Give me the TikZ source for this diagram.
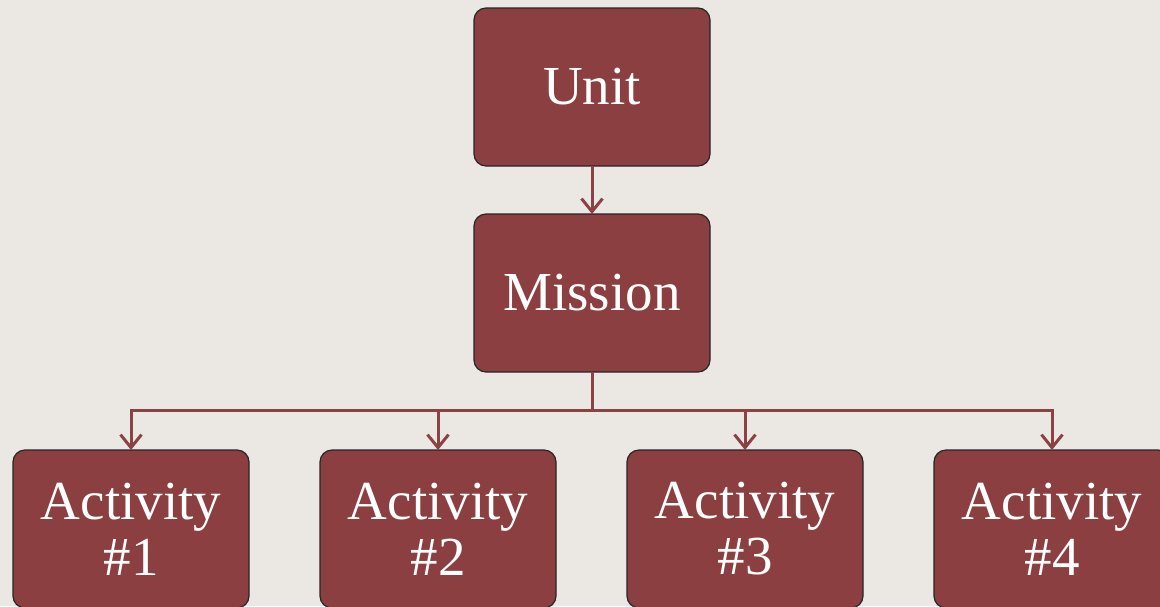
\documentclass[tikz,border=0pt]{standalone}
\usepackage{fontspec}
\setmainfont{Liberation Serif}
\usetikzlibrary{positioning,arrows.meta}

\definecolor{boxred}{HTML}{8B3F40}
\definecolor{linkred}{HTML}{8B4244}
\definecolor{paper}{HTML}{EBE8E4}

\tikzset{
	stage/.style={rectangle,draw=black!85,line width=1.2pt,fill=boxred,rounded corners=12pt,
		minimum width=236pt,minimum height=158pt,inner sep=0pt,outer sep=0pt,text=white,align=center,
		font=\fontsize{55}{56}\selectfont},
	link/.style={draw=linkred,line width=3pt,-{Straight Barb[length=13pt,width=21pt]}},
	trunk/.style={draw=linkred,line width=3pt}
}

\begin{document}
\begin{tikzpicture}[x=1pt,y=1pt,node distance=48pt]
	\fill[paper] (0,0) rectangle (1160,-606);
	\useasboundingbox (0,0) rectangle (1160,-606);

	\node (unit) [stage] at (592,-87) {Unit};
	\node (mission) [stage,below=of unit] {Mission};

	\node (act1) [stage] at (131,-529) {Activity\\\#1};
	\node (act2) [stage,right=71pt of act1] {Activity\\\#2};
	\node (act3) [stage,right=71pt of act2] {Activity\\\#3};
	\node (act4) [stage,right=71pt of act3] {Activity\\\#4};

	\coordinate [below=38pt of mission.south] (bus);

	\draw[link] (unit) -- (mission);
	\draw[trunk] (mission) -- (bus);
	\foreach \i in {1,...,4}
		\draw[link] (bus) -| (act\i.north);

\end{tikzpicture}
\end{document}
